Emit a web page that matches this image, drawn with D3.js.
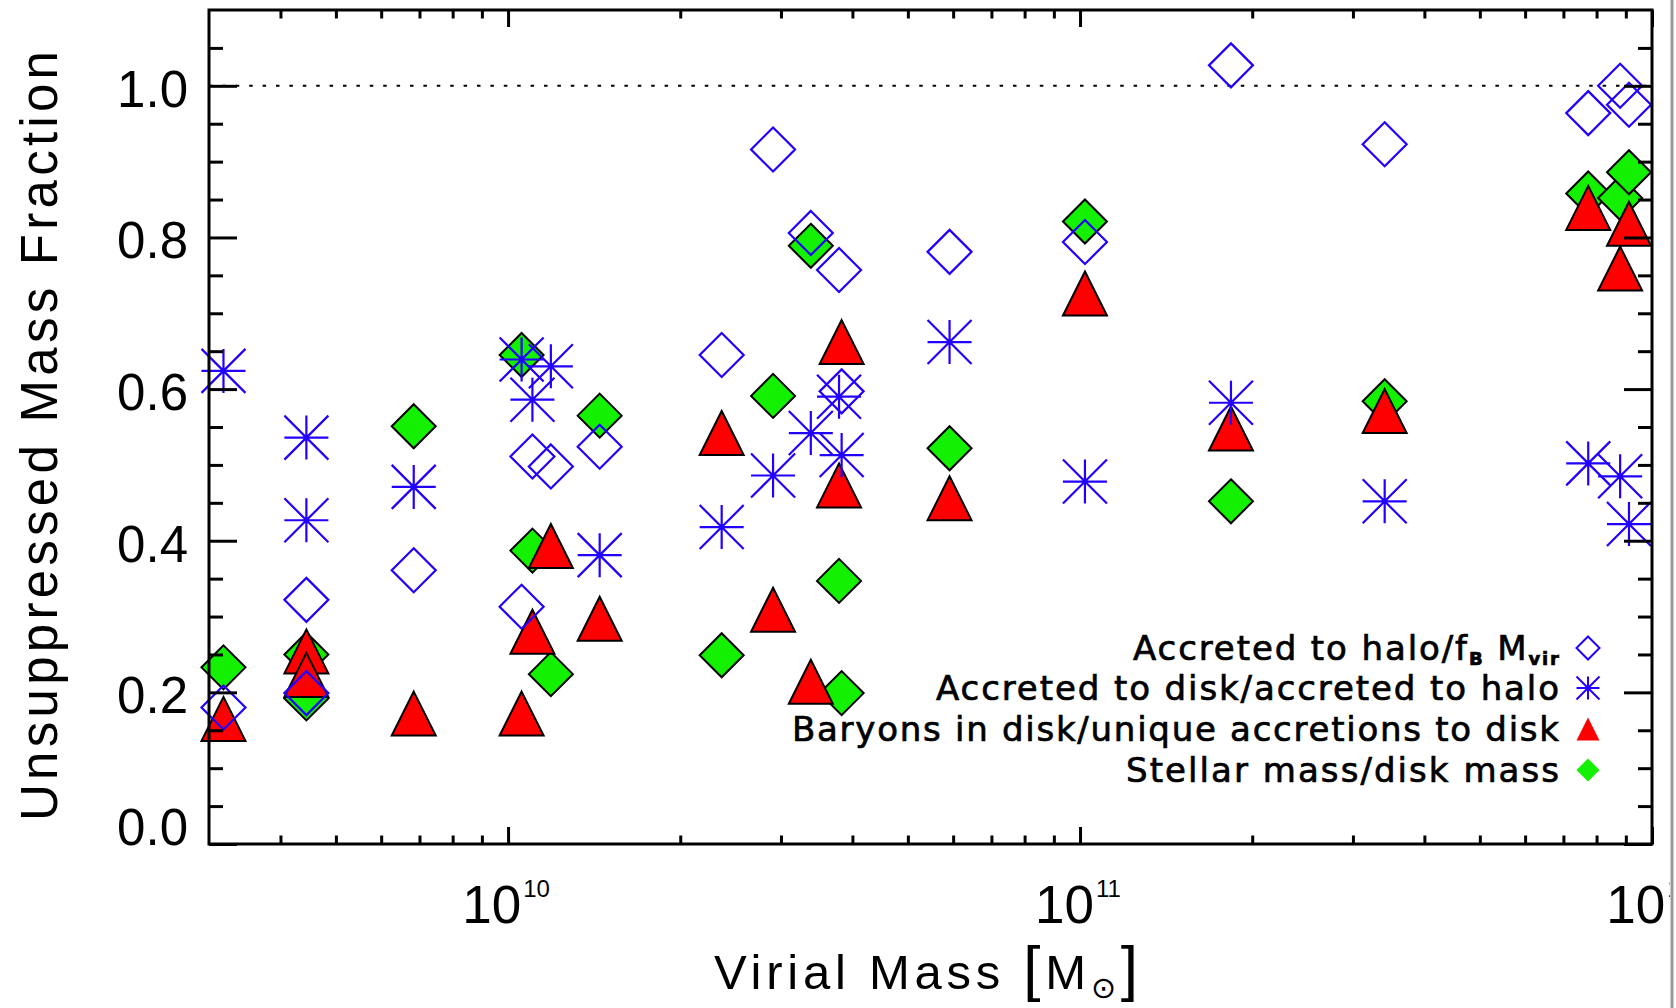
<!DOCTYPE html>
<html>
<head>
<meta charset="utf-8">
<script src="https://cdn.jsdelivr.net/npm/d3@7"></script>
<style>
  body { margin: 0; background: #fff; }
  svg { display: block; }
</style>
</head>
<body>
<svg id="chart"></svg>
<script>
// virial mass of each halo (Msun)
var mvir = [3.18e9, 4.44e9, 4.44e9, 6.84e9, 1.056e10, 1.103e10, 1.188e10, 1.446e10, 2.363e10, 2.906e10,
            3.383e10, 3.79e10, 3.83e10, 5.914e10, 1.02e11, 1.836e11, 3.409e11, 7.736e11, 8.796e11, 9.115e11]
// accreted to halo / fB Mvir  (open diamonds)
var haloFrac = [0.180, 0.322, 0.199, 0.361, 0.313, 0.511, 0.498, 0.524, 0.645, 0.916,
                0.806, 0.757, 0.597, 0.781, 0.794, 1.027, 0.923, 0.964, 1.000, 0.975]
// accreted to disk / accreted to halo  (asterisks)
var diskFrac = [0.624, 0.536, 0.427, 0.471, 0.639, 0.586, 0.630, 0.381, 0.418, 0.486,
                0.542, 0.590, 0.513, 0.662, 0.478, 0.582, 0.452, 0.502, 0.485, 0.422]
// baryons in disk / unique accretions to disk  (red triangles)
var baryFrac = [0.165, 0.254, 0.223, 0.172, 0.172, 0.280, 0.393, 0.297, 0.542, 0.309,
                0.214, 0.473, 0.662, 0.456, 0.726, 0.548, 0.571, 0.839, 0.759, 0.818]
// stellar mass / disk mass  (green diamonds)
var starFrac = [0.233, 0.250, 0.192, 0.551, 0.645, 0.387, 0.224, 0.565, 0.249, 0.591,
                0.789, 0.347, 0.199, 0.522, 0.821, 0.452, 0.584, 0.858, 0.852, 0.886]

var xMajor = [1e10, 1e11, 1e12]
var xMajorExp = ["10", "11", "12"]
var xMinor = [4e9, 5e9, 6e9, 7e9, 8e9, 9e9, 2e10, 3e10, 4e10, 5e10, 6e10, 7e10, 8e10, 9e10,
              2e11, 3e11, 4e11, 5e11, 6e11, 7e11, 8e11, 9e11]
var yMajor = [0, 0.2, 0.4, 0.6, 0.8, 1.0]
var yMinor = [0.05, 0.1, 0.15, 0.25, 0.3, 0.35, 0.45, 0.5, 0.55, 0.65, 0.7, 0.75, 0.85, 0.9, 0.95, 1.05]

var blue = "#2200ff", green = "#13f000", red = "#ff0000"

var width = 1676, height = 1008
var svg = d3.select("#chart").attr("width", width).attr("height", height)

var x = d3.scaleLog().domain([3e9, 1e12]).range([209, 1652])
var y = d3.scaleLinear().domain([0, 1.1]).range([844, 10])

// everything right of the cut is hidden, like the cropped original
svg.append("defs").append("clipPath").attr("id", "cut")
  .append("rect").attr("x", 0).attr("y", 0).attr("width", 1670).attr("height", height)
var root = svg.append("g").attr("clip-path", "url(#cut)")

// marker shapes
function diamond(r) { return "M0," + (-r) + "L" + r + ",0L0," + r + "L" + (-r) + ",0Z" }
function triangle(r) { return "M0," + (-r) + "L" + r + "," + r + "L" + (-r) + "," + r + "Z" }
function asterisk(r) {
  return "M0," + (-r) + "V" + r + "M" + (-r) + ",0H" + r +
         "M" + (-r) + "," + (-r) + "L" + r + "," + r + "M" + (-r) + "," + r + "L" + r + "," + (-r)
}

// dotted line at 1
root.append("line")
  .attr("x1", x(3e9)).attr("x2", x(1e12))
  .attr("y1", y(1)).attr("y2", y(1))
  .attr("stroke", "#000").attr("stroke-width", 2)
  .attr("stroke-dasharray", "3.5,9.9")

var R = 22
function drawSeries(vals, path, fill, stroke, sw) {
  root.append("g").selectAll("path")
    .data(vals)
    .enter()
    .append("path")
    .attr("d", path(R))
    .attr("transform", function(d, i) { return "translate(" + x(mvir[i]) + "," + y(d) + ")" })
    .attr("fill", fill)
    .attr("stroke", stroke)
    .attr("stroke-width", sw)
}
drawSeries(starFrac, diamond, green, "#000", 2)
drawSeries(baryFrac, triangle, red, "#000", 2)
drawSeries(diskFrac, asterisk, "none", blue, 2.2)
drawSeries(haloFrac, diamond, "none", blue, 2.2)

// axes: ticks point inward on all four sides
function tickAxis(axis, vals, len, tx, ty) {
  var g = root.append("g").attr("transform", "translate(" + tx + "," + ty + ")")
    .call(axis.tickValues(vals).tickSize(len).tickFormat(""))
  g.select(".domain").remove()
  g.selectAll("line").attr("stroke", "#000").attr("stroke-width", 3)
}
tickAxis(d3.axisBottom(x), xMajor, -17, 0, 844)
tickAxis(d3.axisBottom(x), xMinor, -8.5, 0, 844)
tickAxis(d3.axisTop(x), xMajor, -17, 0, 10)
tickAxis(d3.axisTop(x), xMinor, -8.5, 0, 10)
tickAxis(d3.axisLeft(y), yMajor, -28, 209, 0)
tickAxis(d3.axisLeft(y), yMinor, -14, 209, 0)
tickAxis(d3.axisRight(y), yMajor, -28, 1652, 0)
tickAxis(d3.axisRight(y), yMinor, -14, 1652, 0)

root.append("rect")
  .attr("x", 209).attr("y", 10).attr("width", 1652 - 209).attr("height", 844 - 10)
  .attr("fill", "none").attr("stroke", "#000").attr("stroke-width", 3)

// y tick labels (the bottom one sits up off the x axis)
root.append("g").selectAll("text")
  .data(yMajor)
  .enter()
  .append("text")
  .attr("x", 188)
  .attr("y", function(d) { return d == 0 ? y(d) + 1 : y(d) + 21 })
  .attr("text-anchor", "end")
  .style("font-family", "Liberation Sans, Arial, sans-serif")
  .style("font-size", "51px")
  .text(function(d) { return d.toFixed(1) })

// x tick labels 10^n
var xl = root.append("g").selectAll("text")
  .data(xMajor)
  .enter()
  .append("text")
  .attr("x", function(d) { return x(d) - 2 })
  .attr("y", 923)
  .attr("text-anchor", "middle")
  .style("font-family", "Liberation Sans, Arial, sans-serif")
  .style("font-size", "53px")
xl.append("tspan").text("10")
xl.append("tspan").attr("dy", -26).attr("dx", 2).style("font-size", "24px")
  .text(function(d, i) { return xMajorExp[i] })

// axis titles
root.append("text")
  .attr("transform", "translate(57,436) rotate(-90)")
  .attr("text-anchor", "middle")
  .attr("textLength", 770)
  .attr("lengthAdjust", "spacing")
  .style("font-family", "Liberation Sans, Arial, sans-serif")
  .style("font-size", "51px")
  .text("Unsuppressed Mass Fraction")

var xt = root.append("text")
  .attr("x", 926).attr("y", 989)
  .attr("text-anchor", "middle")
  .attr("textLength", 424)
  .attr("lengthAdjust", "spacing")
  .style("font-family", "Liberation Sans, Arial, sans-serif")
  .style("font-size", "49px")
xt.append("tspan").text("Virial Mass ")
xt.append("tspan").style("font-size", "62px").text("[")
xt.append("tspan").text("M")
xt.append("tspan").attr("dy", 9).style("font-family", "DejaVu Sans").style("font-size", "30px").text("\u2299")
xt.append("tspan").attr("dy", -9).style("font-size", "62px").text("]")

// legend
var legendLabels = ["Accreted to halo/f", "Accreted to disk/accreted to halo",
                    "Baryons in disk/unique accretions to disk", "Stellar mass/disk mass"]
var legendWidths = [426, 623, 767, 433]
var legendBase = [660, 700, 741, 782]
var legend = root.append("g")
legendLabels.forEach(function(lab, i) {
  var t = legend.append("text")
    .attr("x", 1559).attr("y", legendBase[i])
    .attr("text-anchor", "end")
    .attr("textLength", legendWidths[i])
    .attr("lengthAdjust", "spacing")
    .attr("stroke", "#000").attr("stroke-width", 0.7)
    .style("font-family", "DejaVu Sans, sans-serif")
    .style("font-size", "34px")
  t.append("tspan").text(lab)
  if (i == 0) {
    t.append("tspan").attr("dy", 5).style("font-size", "18px").style("font-weight", "bold").text("B")
    t.append("tspan").attr("dy", -5).text(" M")
    t.append("tspan").attr("dy", 5).style("font-size", "18px").style("font-weight", "bold").text("vir")
  }
})
var lr = 11.5
var lx = 1588
legend.append("path").attr("d", diamond(lr)).attr("transform", "translate(" + lx + "," + (legendBase[0] - 12) + ")")
  .attr("fill", "none").attr("stroke", blue).attr("stroke-width", 2)
legend.append("path").attr("d", asterisk(lr)).attr("transform", "translate(" + lx + "," + (legendBase[1] - 12) + ")")
  .attr("fill", "none").attr("stroke", blue).attr("stroke-width", 2)
legend.append("path").attr("d", triangle(lr)).attr("transform", "translate(" + lx + "," + (legendBase[2] - 12) + ")")
  .attr("fill", red)
legend.append("path").attr("d", diamond(lr)).attr("transform", "translate(" + lx + "," + (legendBase[3] - 12) + ")")
  .attr("fill", green)

// grey edge of the cropped original
svg.append("line").attr("x1", 1672).attr("x2", 1672).attr("y1", 0).attr("y2", height)
  .attr("stroke", "#999").attr("stroke-width", 3)
</script>
</body>
</html>
